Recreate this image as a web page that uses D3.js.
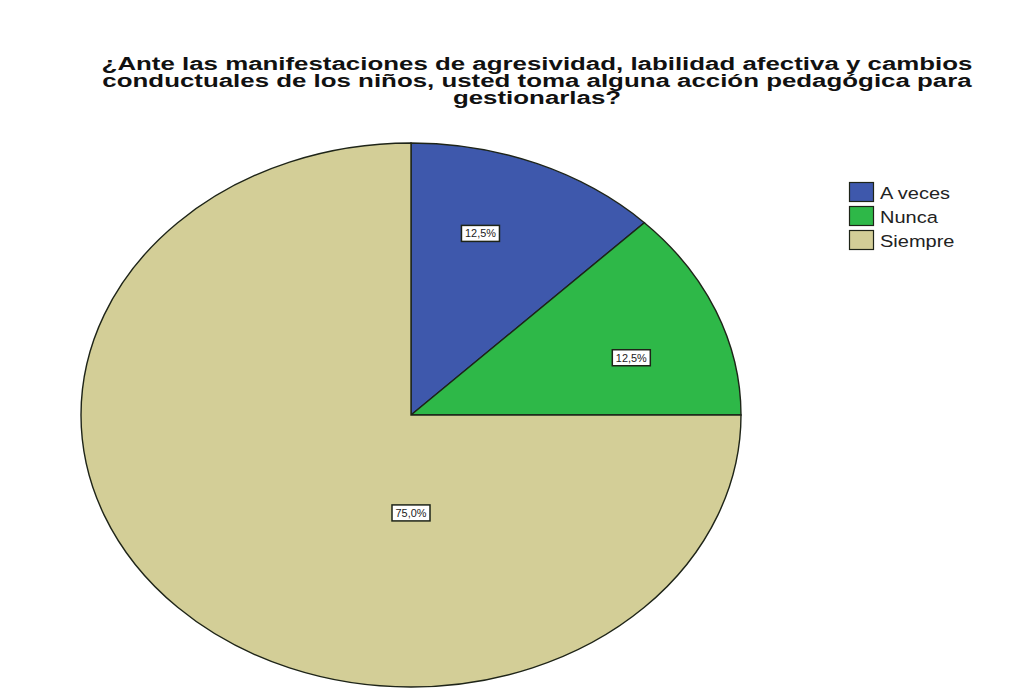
<!DOCTYPE html>
<html>
<head>
<meta charset="utf-8">
<script src="https://cdn.jsdelivr.net/npm/d3@7.9.0/dist/d3.min.js"></script>
<style>
  body { margin: 0; background: #fff; }
  svg { display: block; }
</style>
</head>
<body>
<svg id="chart"></svg>
<script>
// Data
const categories = ["A veces", "Nunca", "Siempre"];
const percents = [12.5, 12.5, 75.0];
const colors = ["#3e58ac", "#2eb848", "#d3ce97"];
const titleLines = [
    "¿Ante las manifestaciones de agresividad, labilidad afectiva y cambios",
    "conductuales de los niños, usted toma alguna acción pedagógica para",
    "gestionarlas?"
];

const width = 1036, height = 693;
const cx = 411, cy = 415;
const rx = 330, ry = 272;   // the picture is stretched sideways
const stretch = rx / ry;

const svg = d3.select("#chart")
    .attr("width", width)
    .attr("height", height);

const slices = categories.map((c, i) => ({ cat: c, value: percents[i], color: colors[i] }));

const color = d3.scaleOrdinal()
    .domain(categories)
    .range(colors);

// Title (stretched so the first line spans the same width as the reference)
const title = svg.append("g");

title.selectAll("text")
    .data(titleLines)
    .enter()
    .append("text")
    .attr("x", 0)
    .attr("y", (d, i) => 70 + i * 17)
    .attr("text-anchor", "middle")
    .style("font-family", "'Liberation Sans', Arial, sans-serif")
    .style("font-weight", "bold")
    .style("font-size", "19px")
    .style("fill", "#111")
    .text(d => d);

const firstLen = title.select("text").node().getComputedTextLength();
title.attr("transform", `translate(537,0) scale(${871 / firstLen},1)`);

// Pie
const pie = d3.pie()
    .sort(null)
    .value(d => d.value);

const arcs = pie(slices);

const arc = d3.arc()
    .innerRadius(0)
    .outerRadius(ry);

const pieG = svg.append("g")
    .attr("transform", `translate(${cx},${cy}) scale(${stretch},1)`);

pieG.selectAll("path")
    .data(arcs)
    .enter()
    .append("path")
    .attr("d", arc)
    .attr("fill", d => color(d.data.cat))
    .attr("stroke", "#1e2418")
    .attr("stroke-width", 1.4)
    .attr("vector-effect", "non-scaling-stroke");

// Slice labels (where SPSS put them: angle in degrees, fraction of radius)
const labelSpots = [
    { a: 17.5, r: 0.70 },
    { a: 72.5, r: 0.70 },
    { a: 180, r: 0.36 }
];

const fmt = v => v.toFixed(1).replace(".", ",") + "%";

const labels = svg.selectAll("g.lbl")
    .data(arcs)
    .enter()
    .append("g")
    .attr("class", "lbl")
    .attr("transform", (d, i) => {
        const s = labelSpots[i];
        const t = s.a * Math.PI / 180;
        const x = cx + Math.sin(t) * s.r * rx;
        const y = cy - Math.cos(t) * s.r * ry;
        return `translate(${x},${y})`;
    });

labels.append("rect")
    .attr("x", -19)
    .attr("y", -8)
    .attr("width", 38)
    .attr("height", 16)
    .attr("fill", "#fff")
    .attr("stroke", "#1e2418")
    .attr("stroke-width", 1.5);

labels.append("text")
    .attr("text-anchor", "middle")
    .attr("y", 4)
    .attr("transform", `scale(${stretch * 0.9},1)`)
    .style("font-family", "'Liberation Sans', Arial, sans-serif")
    .style("font-size", "10px")
    .style("fill", "#222")
    .text(d => fmt(d.data.value));

// Legend
const legend = svg.append("g")
    .attr("transform", "translate(849,182)");

legend.selectAll("rect")
    .data(categories)
    .enter()
    .append("rect")
    .attr("x", 0.5)
    .attr("y", (d, i) => i * 24 + 0.5)
    .attr("width", 24)
    .attr("height", 19)
    .attr("fill", d => color(d))
    .attr("stroke", "#1e2418")
    .attr("stroke-width", 1.2);

legend.selectAll("text")
    .data(categories)
    .enter()
    .append("text")
    .attr("transform", (d, i) => `translate(31,${i * 24 + 17}) scale(${stretch},1)`)
    .style("font-family", "'Liberation Sans', Arial, sans-serif")
    .style("font-size", "16.5px")
    .style("fill", "#222")
    .text(d => d);
</script>
</body>
</html>
